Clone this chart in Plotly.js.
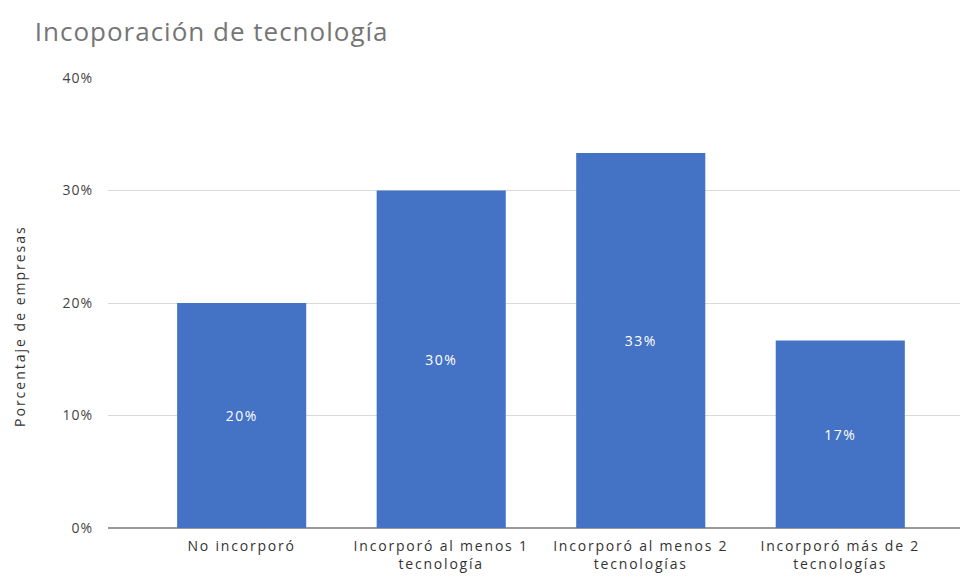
<!DOCTYPE html>
<html>
<head>
<meta charset="utf-8">
<script src="https://cdn.plot.ly/plotly-3.0.1.min.js"></script>
<style>
html,body{margin:0;padding:0;background:#fff;}
#chart{width:965px;height:582px;}
#chart .xtick text{letter-spacing:1.8px;}
#chart .ytick text{letter-spacing:1px;}
#chart text.annotation-text{letter-spacing:2px;}
#chart text.gtitle{letter-spacing:1px;}
#chart text.bartext{letter-spacing:1.5px;}
</style>
</head>
<body>
<div id="chart"></div>
<script>
const categories = ["No incorporó", "Incorporó al menos 1<br>tecnología", "Incorporó al menos 2<br>tecnologías", "Incorporó más de 2<br>tecnologías"];
const values = [20, 30, 33.33, 16.67];
const yTickVals = [0, 10, 20, 30, 40];
const yTickText = ["0%", "10%", "20%", "30%", "40%"];
const yTitle = "Porcentaje de empresas";

const trace = {
  type: 'bar',
  x: [0, 1, 2, 3],
  y: values,
  width: 0.647,
  marker: {color: '#4472c4'},
  text: values.map(v => Math.round(v) + '%'),
  textposition: 'inside',
  insidetextanchor: 'middle',
  textfont: {color: '#ffffff', size: 14, family: 'Open Sans, sans-serif'},
  hoverinfo: 'none'
};

const layout = {
  width: 965, height: 582,
  margin: {l: 108, r: 5, t: 78, b: 54},
  paper_bgcolor: '#ffffff', plot_bgcolor: '#ffffff',
  font: {family: 'Open Sans, sans-serif', color: '#444444', size: 12},
  title: {text: 'Incoporación de tecnología', x: 0.036, xanchor: 'left', y: 0.96, yanchor: 'top',
          font: {size: 26, color: '#757575', family: 'Open Sans, sans-serif'}},
  xaxis: {
    range: [-0.67, 3.6],
    tickvals: [0, 1, 2, 3], ticktext: categories,
    showgrid: false, zeroline: false, showline: false,
    ticks: '', ticklabelstandoff: 8,
    tickfont: {size: 14, color: '#333333'}
  },
  yaxis: {
    range: [0, 40],
    tickvals: yTickVals, ticktext: yTickText,
    showgrid: true, gridcolor: '#d9d9d9', gridwidth: 1,
    zeroline: true, zerolinecolor: '#999999', zerolinewidth: 2,
    showline: false, ticks: '',
    ticklabelstandoff: 14,
    tickfont: {size: 14, color: '#444444'}
  },
  annotations: [{
    text: yTitle, textangle: -90, showarrow: false,
    xref: 'paper', yref: 'paper', x: 0, y: 0.449,
    xanchor: 'center', yanchor: 'middle', xshift: -88,
    font: {size: 14, color: '#333333', family: 'Open Sans, sans-serif'}
  }],
  showlegend: false
};

Plotly.newPlot('chart', [trace], layout, {displayModeBar: false, staticPlot: true});
</script>
</body>
</html>
